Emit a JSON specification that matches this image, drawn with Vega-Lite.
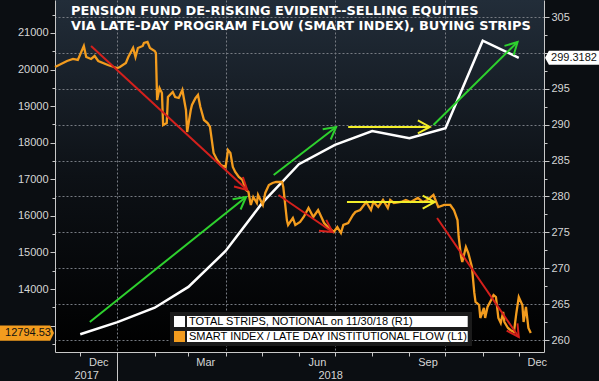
{
  "$schema": "https://vega.github.io/schema/vega-lite/v6.json",
  "width": 489,
  "height": 352,
  "autosize": {"type": "none"},
  "padding": {"left": 55, "top": 0, "right": 55, "bottom": 29},
  "background": "#0b0e12",
  "view": {"fill": {"gradient": "linear", "x1": 0, "y1": 0, "x2": 0, "y2": 1, "stops": [{"offset": 0, "color": "#222d39"}, {"offset": 0.5, "color": "#0d1116"}, {"offset": 1, "color": "#000000"}]}, "stroke": null},
  "title": {
    "text": ["PENSION FUND DE-RISKING EVIDENT--SELLING EQUITIES", "VIA LATE-DAY PROGRAM FLOW (SMART INDEX), BUYING STRIPS"],
    "anchor": "start", "frame": "group", "orient": "top", "offset": 0, "baseline": "top",
    "dx": 16, "dy": 33, "font": "DejaVu Sans", "fontSize": 12.9, "fontWeight": "bold", "color": "#ffffff", "lineHeight": 15
  },
  "config": {
    "font": "Liberation Sans",
    "axis": {"labelFont": "Liberation Sans", "labelFontSize": 11, "labelColor": "#d6d6d6", "tickColor": "#c8c8c8", "domainColor": "#c8c8c8", "domainWidth": 1, "tickWidth": 1},
    "legend": {
      "orient": "none", "legendX": 115, "legendY": 312, "title": null, "symbolType": "square", "symbolSize": 121,
      "fillColor": "#1b1b1b", "padding": 4, "labelFont": "Liberation Sans", "labelFontSize": 11, "labelColor": "#000000",
      "rowPadding": 3, "labelOffset": 4, "symbolStrokeWidth": 0, "labelLimit": 400
    }
  },
  "datasets": {
    "smart": [
      {"date": "2017-11-10", "value": 20070}, {"date": "2017-11-20", "value": 20234}, {"date": "2017-11-25", "value": 20289},
      {"date": "2017-11-29", "value": 20262}, {"date": "2017-12-04", "value": 20645}, {"date": "2017-12-06", "value": 20344},
      {"date": "2017-12-10", "value": 20289}, {"date": "2017-12-13", "value": 20371}, {"date": "2017-12-16", "value": 20234},
      {"date": "2017-12-24", "value": 20125}, {"date": "2017-12-29", "value": 20070}, {"date": "2018-01-01", "value": 20043},
      {"date": "2018-01-03", "value": 20070}, {"date": "2018-01-08", "value": 20180}, {"date": "2018-01-10", "value": 20344},
      {"date": "2018-01-14", "value": 20590}, {"date": "2018-01-16", "value": 20344}, {"date": "2018-01-18", "value": 20590},
      {"date": "2018-01-22", "value": 20645}, {"date": "2018-01-23", "value": 20727}, {"date": "2018-01-26", "value": 20754},
      {"date": "2018-01-28", "value": 20590}, {"date": "2018-02-01", "value": 20508}, {"date": "2018-02-02", "value": 20453},
      {"date": "2018-02-03", "value": 19168}, {"date": "2018-02-05", "value": 19496}, {"date": "2018-02-07", "value": 19360},
      {"date": "2018-02-08", "value": 18485}, {"date": "2018-02-11", "value": 18539}, {"date": "2018-02-12", "value": 19250},
      {"date": "2018-02-16", "value": 19387}, {"date": "2018-02-18", "value": 19250}, {"date": "2018-02-21", "value": 19223},
      {"date": "2018-02-24", "value": 19442}, {"date": "2018-02-27", "value": 18895}, {"date": "2018-02-28", "value": 18293},
      {"date": "2018-03-03", "value": 18895}, {"date": "2018-03-04", "value": 19032}, {"date": "2018-03-07", "value": 19223},
      {"date": "2018-03-09", "value": 19305}, {"date": "2018-03-11", "value": 18977}, {"date": "2018-03-14", "value": 18621},
      {"date": "2018-03-17", "value": 18539}, {"date": "2018-03-19", "value": 18430}, {"date": "2018-03-22", "value": 17719},
      {"date": "2018-03-25", "value": 17528}, {"date": "2018-03-28", "value": 17391}, {"date": "2018-04-01", "value": 17336},
      {"date": "2018-04-03", "value": 17801}, {"date": "2018-04-05", "value": 17719}, {"date": "2018-04-07", "value": 17336},
      {"date": "2018-04-09", "value": 17200}, {"date": "2018-04-12", "value": 17063}, {"date": "2018-04-15", "value": 16981},
      {"date": "2018-04-18", "value": 16708}, {"date": "2018-04-20", "value": 16653}, {"date": "2018-04-22", "value": 16298},
      {"date": "2018-04-24", "value": 16516}, {"date": "2018-04-27", "value": 16352}, {"date": "2018-04-28", "value": 16571},
      {"date": "2018-05-02", "value": 16298}, {"date": "2018-05-04", "value": 16626}, {"date": "2018-05-07", "value": 16844},
      {"date": "2018-05-10", "value": 16899}, {"date": "2018-05-13", "value": 16926}, {"date": "2018-05-15", "value": 16926},
      {"date": "2018-05-18", "value": 16926}, {"date": "2018-05-19", "value": 16790}, {"date": "2018-05-22", "value": 15887},
      {"date": "2018-05-23", "value": 15751}, {"date": "2018-05-27", "value": 15942}, {"date": "2018-05-29", "value": 15751},
      {"date": "2018-06-02", "value": 15833}, {"date": "2018-06-05", "value": 15969}, {"date": "2018-06-09", "value": 16215},
      {"date": "2018-06-13", "value": 15969}, {"date": "2018-06-17", "value": 16161}, {"date": "2018-06-22", "value": 15805},
      {"date": "2018-06-26", "value": 15669}, {"date": "2018-06-30", "value": 15559}, {"date": "2018-07-03", "value": 15696},
      {"date": "2018-07-06", "value": 15532}, {"date": "2018-07-08", "value": 15751}, {"date": "2018-07-12", "value": 15805},
      {"date": "2018-07-16", "value": 16024}, {"date": "2018-07-18", "value": 16106}, {"date": "2018-07-22", "value": 16161},
      {"date": "2018-07-27", "value": 16380}, {"date": "2018-07-31", "value": 16161}, {"date": "2018-08-02", "value": 16380},
      {"date": "2018-08-06", "value": 16243}, {"date": "2018-08-10", "value": 16434}, {"date": "2018-08-14", "value": 16215},
      {"date": "2018-08-16", "value": 16434}, {"date": "2018-08-19", "value": 16352}, {"date": "2018-08-25", "value": 16380},
      {"date": "2018-08-29", "value": 16434}, {"date": "2018-09-02", "value": 16380}, {"date": "2018-09-08", "value": 16489},
      {"date": "2018-09-12", "value": 16380}, {"date": "2018-09-16", "value": 16434}, {"date": "2018-09-21", "value": 16571},
      {"date": "2018-09-25", "value": 16243}, {"date": "2018-09-30", "value": 16298}, {"date": "2018-10-05", "value": 16298},
      {"date": "2018-10-08", "value": 16161}, {"date": "2018-10-11", "value": 15887}, {"date": "2018-10-12", "value": 15423},
      {"date": "2018-10-14", "value": 14876}, {"date": "2018-10-15", "value": 14739}, {"date": "2018-10-18", "value": 15149},
      {"date": "2018-10-20", "value": 14985}, {"date": "2018-10-23", "value": 14602}, {"date": "2018-10-25", "value": 13892},
      {"date": "2018-10-26", "value": 13646}, {"date": "2018-10-27", "value": 13618}, {"date": "2018-10-29", "value": 13564},
      {"date": "2018-10-30", "value": 13208}, {"date": "2018-11-02", "value": 13481}, {"date": "2018-11-03", "value": 13208},
      {"date": "2018-11-05", "value": 13509}, {"date": "2018-11-08", "value": 13700}, {"date": "2018-11-10", "value": 13837},
      {"date": "2018-11-12", "value": 13782}, {"date": "2018-11-14", "value": 13208}, {"date": "2018-11-16", "value": 13071},
      {"date": "2018-11-18", "value": 13372}, {"date": "2018-11-19", "value": 13099}, {"date": "2018-11-22", "value": 12935},
      {"date": "2018-11-24", "value": 12880}, {"date": "2018-11-27", "value": 12825}, {"date": "2018-11-29", "value": 13345},
      {"date": "2018-12-01", "value": 13782}, {"date": "2018-12-04", "value": 13564}, {"date": "2018-12-05", "value": 13099},
      {"date": "2018-12-07", "value": 13509}, {"date": "2018-12-09", "value": 12935}, {"date": "2018-12-11", "value": 12794.53}
    ],
    "strips": [
      {"date": "2017-12-01", "value": 260.8}, {"date": "2018-01-01", "value": 262.5}, {"date": "2018-02-01", "value": 264.5},
      {"date": "2018-03-01", "value": 267.4}, {"date": "2018-04-01", "value": 272.4}, {"date": "2018-05-01", "value": 279.0},
      {"date": "2018-06-01", "value": 284.5}, {"date": "2018-07-01", "value": 287.2}, {"date": "2018-08-01", "value": 289.1},
      {"date": "2018-09-01", "value": 288.1}, {"date": "2018-10-01", "value": 289.5}, {"date": "2018-11-01", "value": 301.7},
      {"date": "2018-12-01", "value": 299.3182}
    ],
    "arrows": [
      {"id": "r1", "trend": "down", "d1": "2017-12-10", "d2": "2018-04-19", "v1": 20645, "v2": 16708},
      {"id": "r2", "trend": "down", "d1": "2018-05-15", "d2": "2018-06-29", "v1": 16571, "v2": 15559},
      {"id": "r3", "trend": "down", "d1": "2018-09-24", "d2": "2018-12-01", "v1": 15942, "v2": 12689},
      {"id": "g1", "trend": "up", "d1": "2017-12-09", "d2": "2018-04-18", "v1": 13099, "v2": 16516},
      {"id": "g2", "trend": "up", "d1": "2018-05-11", "d2": "2018-07-02", "v1": 17118, "v2": 18430},
      {"id": "g3", "trend": "up", "d1": "2018-09-21", "d2": "2018-11-30", "v1": 18485, "v2": 20754},
      {"id": "y1", "trend": "flat", "d1": "2018-07-12", "d2": "2018-09-18", "v1": 18430, "v2": 18430},
      {"id": "y2", "trend": "flat", "d1": "2018-07-11", "d2": "2018-09-22", "v1": 16379, "v2": 16379}
    ],
    "tagLeft": [{"value": 12794.53}],
    "tagRight": [{"value": 299.3182}]
  },
  "resolve": {"scale": {"y": "independent"}, "axis": {"x": "independent", "y": "independent"}},
  "layer": [
    {
      "data": {"name": "strips"},
      "mark": {"type": "line", "strokeWidth": 2.5},
      "encoding": {
        "x": {"field": "date", "type": "temporal",
          "scale": {"domain": [{"year": 2017, "month": 11, "date": 10}, {"year": 2018, "month": 12, "date": 22}]},
          "axis": {"orient": "bottom", "title": null, "values": [{"year": 2017, "month": 12, "date": 16}, {"year": 2018, "month": 3, "date": 15}, {"year": 2018, "month": 6, "date": 16}, {"year": 2018, "month": 9, "date": 16}, {"year": 2018, "month": 12, "date": 16}],
            "format": "%b", "ticks": false, "domain": false, "grid": false, "labelPadding": 4, "labelFlush": false, "labelOverlap": false}},
        "y": {"field": "value", "type": "quantitative", "scale": {"domain": [258.33, 307.37], "zero": false, "nice": false},
          "axis": {"orient": "right", "title": null, "values": [260, 265, 270, 275, 280, 285, 290, 295, 300, 305], "format": "d",
            "labelExpr": "datum.value == 300 ? '' : datum.label",
            "tickSize": 5, "labelPadding": 2, "grid": true, "gridDash": [2, 2], "gridColor": "#767b82", "gridWidth": 1, "domain": true}},
        "color": {"datum": "TOTAL STRIPS, NOTIONAL on 11/30/18 (R1)",
          "scale": {"domain": ["TOTAL STRIPS, NOTIONAL on 11/30/18 (R1)", "SMART INDEX / LATE DAY INSTITUTIONAL FLOW (L1)"], "range": ["#ffffff", "#f39c1e"]},
          "legend": {"encode": {
            "symbols": {"update": {"fill": {"scale": "color", "field": "value"}, "strokeWidth": {"value": 0}}},
            "entries": {"update": {"fill": {"value": {"gradient": "linear", "x1": 0, "y1": 0, "x2": 1, "y2": 0, "stops": [{"offset": 0, "color": "#1b1b1b"}, {"offset": 0.044, "color": "#1b1b1b"}, {"offset": 0.044, "color": "#ffffff"}, {"offset": 1, "color": "#ffffff"}]}}}}
          }}}
      }
    },
    {
      "data": {"name": "smart"},
      "mark": {"type": "line", "strokeWidth": 2.3},
      "encoding": {
        "x": {"field": "date", "type": "temporal",
          "axis": {"orient": "bottom", "title": null, "values": [{"year": 2017, "month": 12, "date": 1}, {"year": 2018, "month": 1, "date": 1}, {"year": 2018, "month": 2, "date": 1}, {"year": 2018, "month": 3, "date": 1}, {"year": 2018, "month": 4, "date": 1}, {"year": 2018, "month": 5, "date": 1}, {"year": 2018, "month": 6, "date": 1}, {"year": 2018, "month": 7, "date": 1}, {"year": 2018, "month": 8, "date": 1}, {"year": 2018, "month": 9, "date": 1}, {"year": 2018, "month": 10, "date": 1}, {"year": 2018, "month": 11, "date": 1}, {"year": 2018, "month": 12, "date": 1}],
            "labels": false, "ticks": true, "tickSize": 4, "domain": true, "grid": false}},
        "y": {"field": "value", "type": "quantitative", "scale": {"domain": [12278, 21902], "zero": false, "nice": false},
          "axis": {"orient": "left", "title": null, "values": [13000, 14000, 15000, 16000, 17000, 18000, 19000, 20000, 21000], "format": "d",
            "labelExpr": "datum.value == 13000 ? '' : datum.label",
            "tickSize": 5, "labelPadding": 2, "grid": false, "domain": true}},
        "color": {"datum": "SMART INDEX / LATE DAY INSTITUTIONAL FLOW (L1)"}
      }
    },
    {
      "data": {"name": "arrows"},
      "mark": {"type": "rule", "strokeWidth": 2},
      "encoding": {
        "x": {"field": "d1", "type": "temporal",
          "axis": {"orient": "bottom", "title": null, "values": [{"year": 2017, "month": 12, "date": 6}, {"year": 2018, "month": 6, "date": 27}],
            "format": "%Y", "ticks": false, "domain": false, "grid": false, "labelPadding": 17, "labelFlush": false, "labelOverlap": false}},
        "x2": {"field": "d2"},
        "y": {"field": "v1", "type": "quantitative", "scale": {"domain": [12278, 21902], "zero": false, "nice": false},
          "axis": {"orient": "left", "title": null, "values": [12500, 13500, 14500, 15500, 16500, 17500, 18500, 19500, 20500, 21500],
            "tickSize": 3, "labels": false, "domain": false, "grid": false}},
        "y2": {"field": "v2"},
        "stroke": {"field": "trend", "type": "nominal", "scale": {"domain": ["down", "up", "flat"], "range": ["#d4201c", "#2ed12e", "#f2ee2a"]}, "legend": null}
      }
    },
    {
      "data": {"name": "arrows"},
      "transform": [{"filter": {"field": "id", "oneOf": ["g1", "g2"]}}],
      "mark": {"type": "point", "shape": "M-2.4,-1.3L0,0L-2.4,1.3", "filled": false, "strokeWidth": 2, "size": 100, "angle": -38, "opacity": 1},
      "encoding": {
        "x": {"field": "d2", "type": "temporal", "axis": null},
        "y": {"field": "v2", "type": "quantitative", "scale": {"domain": [12278, 21902], "zero": false, "nice": false}, "axis": null},
        "stroke": {"field": "trend", "type": "nominal", "legend": null}
      }
    },
    {
      "data": {"name": "arrows"},
      "transform": [{"filter": {"field": "id", "oneOf": ["g3"]}}],
      "mark": {"type": "point", "shape": "M-2.4,-1.3L0,0L-2.4,1.3", "filled": false, "strokeWidth": 2, "size": 100, "angle": -45, "opacity": 1},
      "encoding": {
        "x": {"field": "d2", "type": "temporal", "axis": null},
        "y": {"field": "v2", "type": "quantitative", "scale": {"domain": [12278, 21902], "zero": false, "nice": false}, "axis": null},
        "stroke": {"field": "trend", "type": "nominal", "legend": null}
      }
    },
    {
      "data": {"name": "arrows"},
      "transform": [{"filter": {"field": "id", "oneOf": ["y1", "y2"]}}],
      "mark": {"type": "point", "shape": "M-2.4,-1.3L0,0L-2.4,1.3", "filled": false, "strokeWidth": 2, "size": 100, "angle": 0, "opacity": 1},
      "encoding": {
        "x": {"field": "d2", "type": "temporal", "axis": null},
        "y": {"field": "v2", "type": "quantitative", "scale": {"domain": [12278, 21902], "zero": false, "nice": false}, "axis": null},
        "stroke": {"field": "trend", "type": "nominal", "legend": null}
      }
    },
    {
      "data": {"name": "arrows"},
      "transform": [{"filter": {"field": "id", "oneOf": ["r1"]}}],
      "mark": {"type": "point", "shape": "M-2.4,-1.3L0,0L-2.4,1.3", "filled": false, "strokeWidth": 2, "size": 100, "angle": 43, "opacity": 1},
      "encoding": {
        "x": {"field": "d2", "type": "temporal", "axis": null},
        "y": {"field": "v2", "type": "quantitative", "scale": {"domain": [12278, 21902], "zero": false, "nice": false}, "axis": null},
        "stroke": {"field": "trend", "type": "nominal", "legend": null}
      }
    },
    {
      "data": {"name": "arrows"},
      "transform": [{"filter": {"field": "id", "oneOf": ["r2"]}}],
      "mark": {"type": "point", "shape": "M-2.4,-1.3L0,0L-2.4,1.3", "filled": false, "strokeWidth": 2, "size": 100, "angle": 34, "opacity": 1},
      "encoding": {
        "x": {"field": "d2", "type": "temporal", "axis": null},
        "y": {"field": "v2", "type": "quantitative", "scale": {"domain": [12278, 21902], "zero": false, "nice": false}, "axis": null},
        "stroke": {"field": "trend", "type": "nominal", "legend": null}
      }
    },
    {
      "data": {"name": "arrows"},
      "transform": [{"filter": {"field": "id", "oneOf": ["r3"]}}],
      "mark": {"type": "point", "shape": "M-2.4,-1.3L0,0L-2.4,1.3", "filled": false, "strokeWidth": 2, "size": 100, "angle": 56, "opacity": 1},
      "encoding": {
        "x": {"field": "d2", "type": "temporal", "axis": null},
        "y": {"field": "v2", "type": "quantitative", "scale": {"domain": [12278, 21902], "zero": false, "nice": false}, "axis": null},
        "stroke": {"field": "trend", "type": "nominal", "legend": null}
      }
    },
    {
      "data": {"name": "tagLeft"},
      "mark": {"type": "point", "shape": "M-1,-0.28L0.86,-0.28L1,0L0.86,0.28L-1,0.28Z", "filled": true, "size": 2916, "opacity": 1, "color": "#f39c1e", "strokeWidth": 0, "xOffset": -28},
      "encoding": {
        "x": {"datum": {"year": 2017, "month": 11, "date": 10}, "type": "temporal",
          "axis": {"orient": "bottom", "title": null, "values": [{"year": 2018, "month": 1, "date": 1}], "labels": false, "ticks": true, "tickSize": 29, "domain": false, "grid": false}},
        "y": {"field": "value", "type": "quantitative", "scale": {"domain": [12278, 21902], "zero": false, "nice": false}, "axis": null}
      }
    },
    {
      "data": {"name": "tagLeft"},
      "mark": {"type": "text", "font": "Liberation Sans", "fontSize": 11, "color": "#111111", "xOffset": -27, "align": "center", "baseline": "middle"},
      "encoding": {
        "x": {"datum": {"year": 2017, "month": 11, "date": 10}, "type": "temporal", "axis": null},
        "y": {"field": "value", "type": "quantitative", "scale": {"domain": [12278, 21902], "zero": false, "nice": false}, "axis": null},
        "text": {"field": "value", "type": "quantitative", "format": ".2f"}
      }
    },
    {
      "data": {"name": "tagRight"},
      "mark": {"type": "point", "shape": "M1,-0.25L-0.86,-0.25L-1,0L-0.86,0.25L1,0.25Z", "filled": true, "size": 3136, "opacity": 1, "color": "#ffffff", "strokeWidth": 0, "xOffset": 29},
      "encoding": {
        "x": {"datum": {"year": 2018, "month": 12, "date": 22}, "type": "temporal",
          "axis": {"orient": "bottom", "title": null, "values": [{"year": 2018, "month": 1, "date": 1}, {"year": 2018, "month": 4, "date": 1}, {"year": 2018, "month": 7, "date": 1}, {"year": 2018, "month": 10, "date": 1}],
            "labels": false, "ticks": false, "domain": false, "grid": true, "gridDash": [2, 2], "gridColor": "#767b82", "gridWidth": 1}},
        "y": {"field": "value", "type": "quantitative", "scale": {"domain": [258.33, 307.37], "zero": false, "nice": false},
          "axis": {"orient": "right", "title": null, "values": [262.5, 267.5, 272.5, 277.5, 282.5, 287.5, 292.5, 297.5, 302.5], "tickSize": 3, "labels": false, "domain": false, "grid": false}}
      }
    },
    {
      "data": {"name": "tagRight"},
      "mark": {"type": "text", "font": "Liberation Sans", "fontSize": 11, "color": "#111111", "xOffset": 30, "align": "center", "baseline": "middle"},
      "encoding": {
        "x": {"datum": {"year": 2018, "month": 12, "date": 22}, "type": "temporal", "axis": null},
        "y": {"field": "value", "type": "quantitative", "scale": {"domain": [258.33, 307.37], "zero": false, "nice": false}, "axis": null},
        "text": {"field": "value", "type": "quantitative", "format": ".4f"}
      }
    }
  ]
}
